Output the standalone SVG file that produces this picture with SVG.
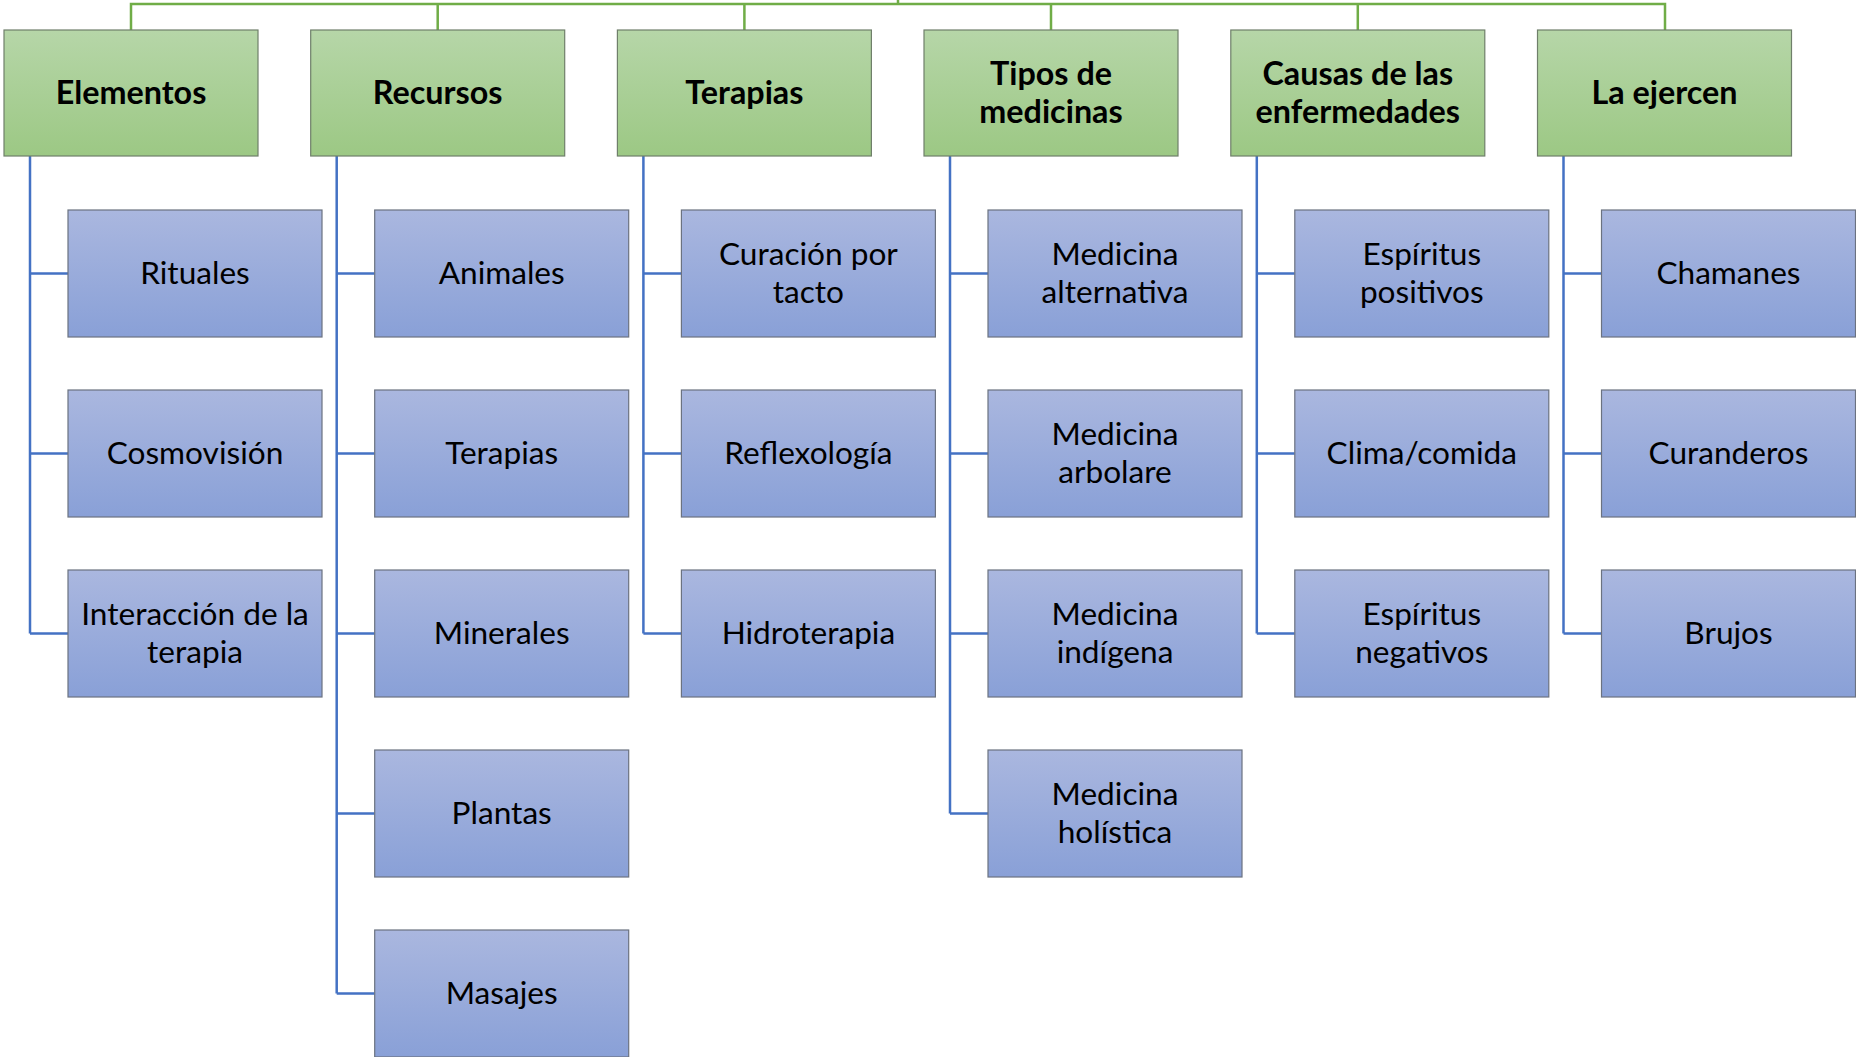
<svg xmlns="http://www.w3.org/2000/svg" width="1856" height="1057" viewBox="0 0 1856 1057">
<defs>
<linearGradient id="gG" x1="0" y1="0" x2="0" y2="1"><stop offset="0" stop-color="#b6d6a8"/><stop offset="1" stop-color="#9cc884"/></linearGradient>
<linearGradient id="gB" x1="0" y1="0" x2="0" y2="1"><stop offset="0" stop-color="#aab7df"/><stop offset="1" stop-color="#89a0d7"/></linearGradient>
<style>
.h rect{fill:url(#gG);stroke:#6f7f6a;stroke-width:1.2}
.c rect{fill:url(#gB);stroke:#6b7280;stroke-width:1.2}
text{font-family:Lato,"Open Sans","Liberation Sans",sans-serif;font-size:31.6px;fill:#000;text-anchor:middle;dominant-baseline:central}
.h text{font-weight:bold;font-size:32.3px}
.gl{fill:none;stroke:#70ad47;stroke-width:2.5}
.bl{fill:none;stroke:#4472c4;stroke-width:2.5}
</style>
</defs>
<g id="connectors">
<path class="gl" d="M898,0V4M131,30V4H1665V30M437.7,4V30M744.4,4V30M1051,4V30M1357.8,4V30"/>
<path class="bl" d="M30,156V633.5M30,273.5H68M30,453.5H68M30,633.5H68"/>
<path class="bl" d="M336.7,156V993.5M336.7,273.5H374.7M336.7,453.5H374.7M336.7,633.5H374.7M336.7,813.5H374.7M336.7,993.5H374.7"/>
<path class="bl" d="M643.4,156V633.5M643.4,273.5H681.4M643.4,453.5H681.4M643.4,633.5H681.4"/>
<path class="bl" d="M950,156V813.5M950,273.5H988M950,453.5H988M950,633.5H988M950,813.5H988"/>
<path class="bl" d="M1256.8,156V633.5M1256.8,273.5H1294.8M1256.8,453.5H1294.8M1256.8,633.5H1294.8"/>
<path class="bl" d="M1563.5,156V633.5M1563.5,273.5H1601.5M1563.5,453.5H1601.5M1563.5,633.5H1601.5"/>
</g>
<g id="h0" class="h"><rect x="4" y="30" width="254" height="126"/><text x="131" y="91">Elementos</text></g>
<g id="h1" class="h"><rect x="310.7" y="30" width="254" height="126"/><text x="437.7" y="91">Recursos</text></g>
<g id="h2" class="h"><rect x="617.4" y="30" width="254" height="126"/><text x="744.4" y="91">Terapias</text></g>
<g id="h3" class="h"><rect x="924" y="30" width="254" height="126"/><text x="1051" y="72.5">Tipos de</text><text x="1051" y="110.5">medicinas</text></g>
<g id="h4" class="h"><rect x="1230.8" y="30" width="254" height="126"/><text x="1357.8" y="72.5">Causas de las</text><text x="1357.8" y="110.5">enfermedades</text></g>
<g id="h5" class="h"><rect x="1537.5" y="30" width="254" height="126"/><text x="1664.5" y="91">La ejercen</text></g>

<g id="c0a" class="c"><rect x="68" y="210" width="254" height="127"/><text x="195" y="271.5">Rituales</text></g>
<g id="c0b" class="c"><rect x="68" y="390" width="254" height="127"/><text x="195" y="451.5">Cosmovisión</text></g>
<g id="c0c" class="c"><rect x="68" y="570" width="254" height="127"/><text x="195" y="613">Interacción de la</text><text x="195" y="651">terapia</text></g>

<g id="c1a" class="c"><rect x="374.7" y="210" width="254" height="127"/><text x="501.7" y="271.5">Animales</text></g>
<g id="c1b" class="c"><rect x="374.7" y="390" width="254" height="127"/><text x="501.7" y="451.5">Terapias</text></g>
<g id="c1c" class="c"><rect x="374.7" y="570" width="254" height="127"/><text x="501.7" y="631.5">Minerales</text></g>
<g id="c1d" class="c"><rect x="374.7" y="750" width="254" height="127"/><text x="501.7" y="811.5">Plantas</text></g>
<g id="c1e" class="c"><rect x="374.7" y="930" width="254" height="127"/><text x="501.7" y="991.5">Masajes</text></g>

<g id="c2a" class="c"><rect x="681.4" y="210" width="254" height="127"/><text x="808.4" y="253">Curación por</text><text x="808.4" y="291">tacto</text></g>
<g id="c2b" class="c"><rect x="681.4" y="390" width="254" height="127"/><text x="808.4" y="451.5">Reflexología</text></g>
<g id="c2c" class="c"><rect x="681.4" y="570" width="254" height="127"/><text x="808.4" y="631.5">Hidroterapia</text></g>

<g id="c3a" class="c"><rect x="988" y="210" width="254" height="127"/><text x="1115" y="253">Medicina</text><text x="1115" y="291">alternativa</text></g>
<g id="c3b" class="c"><rect x="988" y="390" width="254" height="127"/><text x="1115" y="433">Medicina</text><text x="1115" y="471">arbolare</text></g>
<g id="c3c" class="c"><rect x="988" y="570" width="254" height="127"/><text x="1115" y="613">Medicina</text><text x="1115" y="651">indígena</text></g>
<g id="c3d" class="c"><rect x="988" y="750" width="254" height="127"/><text x="1115" y="793">Medicina</text><text x="1115" y="831">holística</text></g>

<g id="c4a" class="c"><rect x="1294.8" y="210" width="254" height="127"/><text x="1421.8" y="253">Espíritus</text><text x="1421.8" y="291">positivos</text></g>
<g id="c4b" class="c"><rect x="1294.8" y="390" width="254" height="127"/><text x="1421.8" y="451.5">Clima/comida</text></g>
<g id="c4c" class="c"><rect x="1294.8" y="570" width="254" height="127"/><text x="1421.8" y="613">Espíritus</text><text x="1421.8" y="651">negativos</text></g>

<g id="c5a" class="c"><rect x="1601.5" y="210" width="254" height="127"/><text x="1728.5" y="271.5">Chamanes</text></g>
<g id="c5b" class="c"><rect x="1601.5" y="390" width="254" height="127"/><text x="1728.5" y="451.5">Curanderos</text></g>
<g id="c5c" class="c"><rect x="1601.5" y="570" width="254" height="127"/><text x="1728.5" y="631.5">Brujos</text></g>
</svg>
